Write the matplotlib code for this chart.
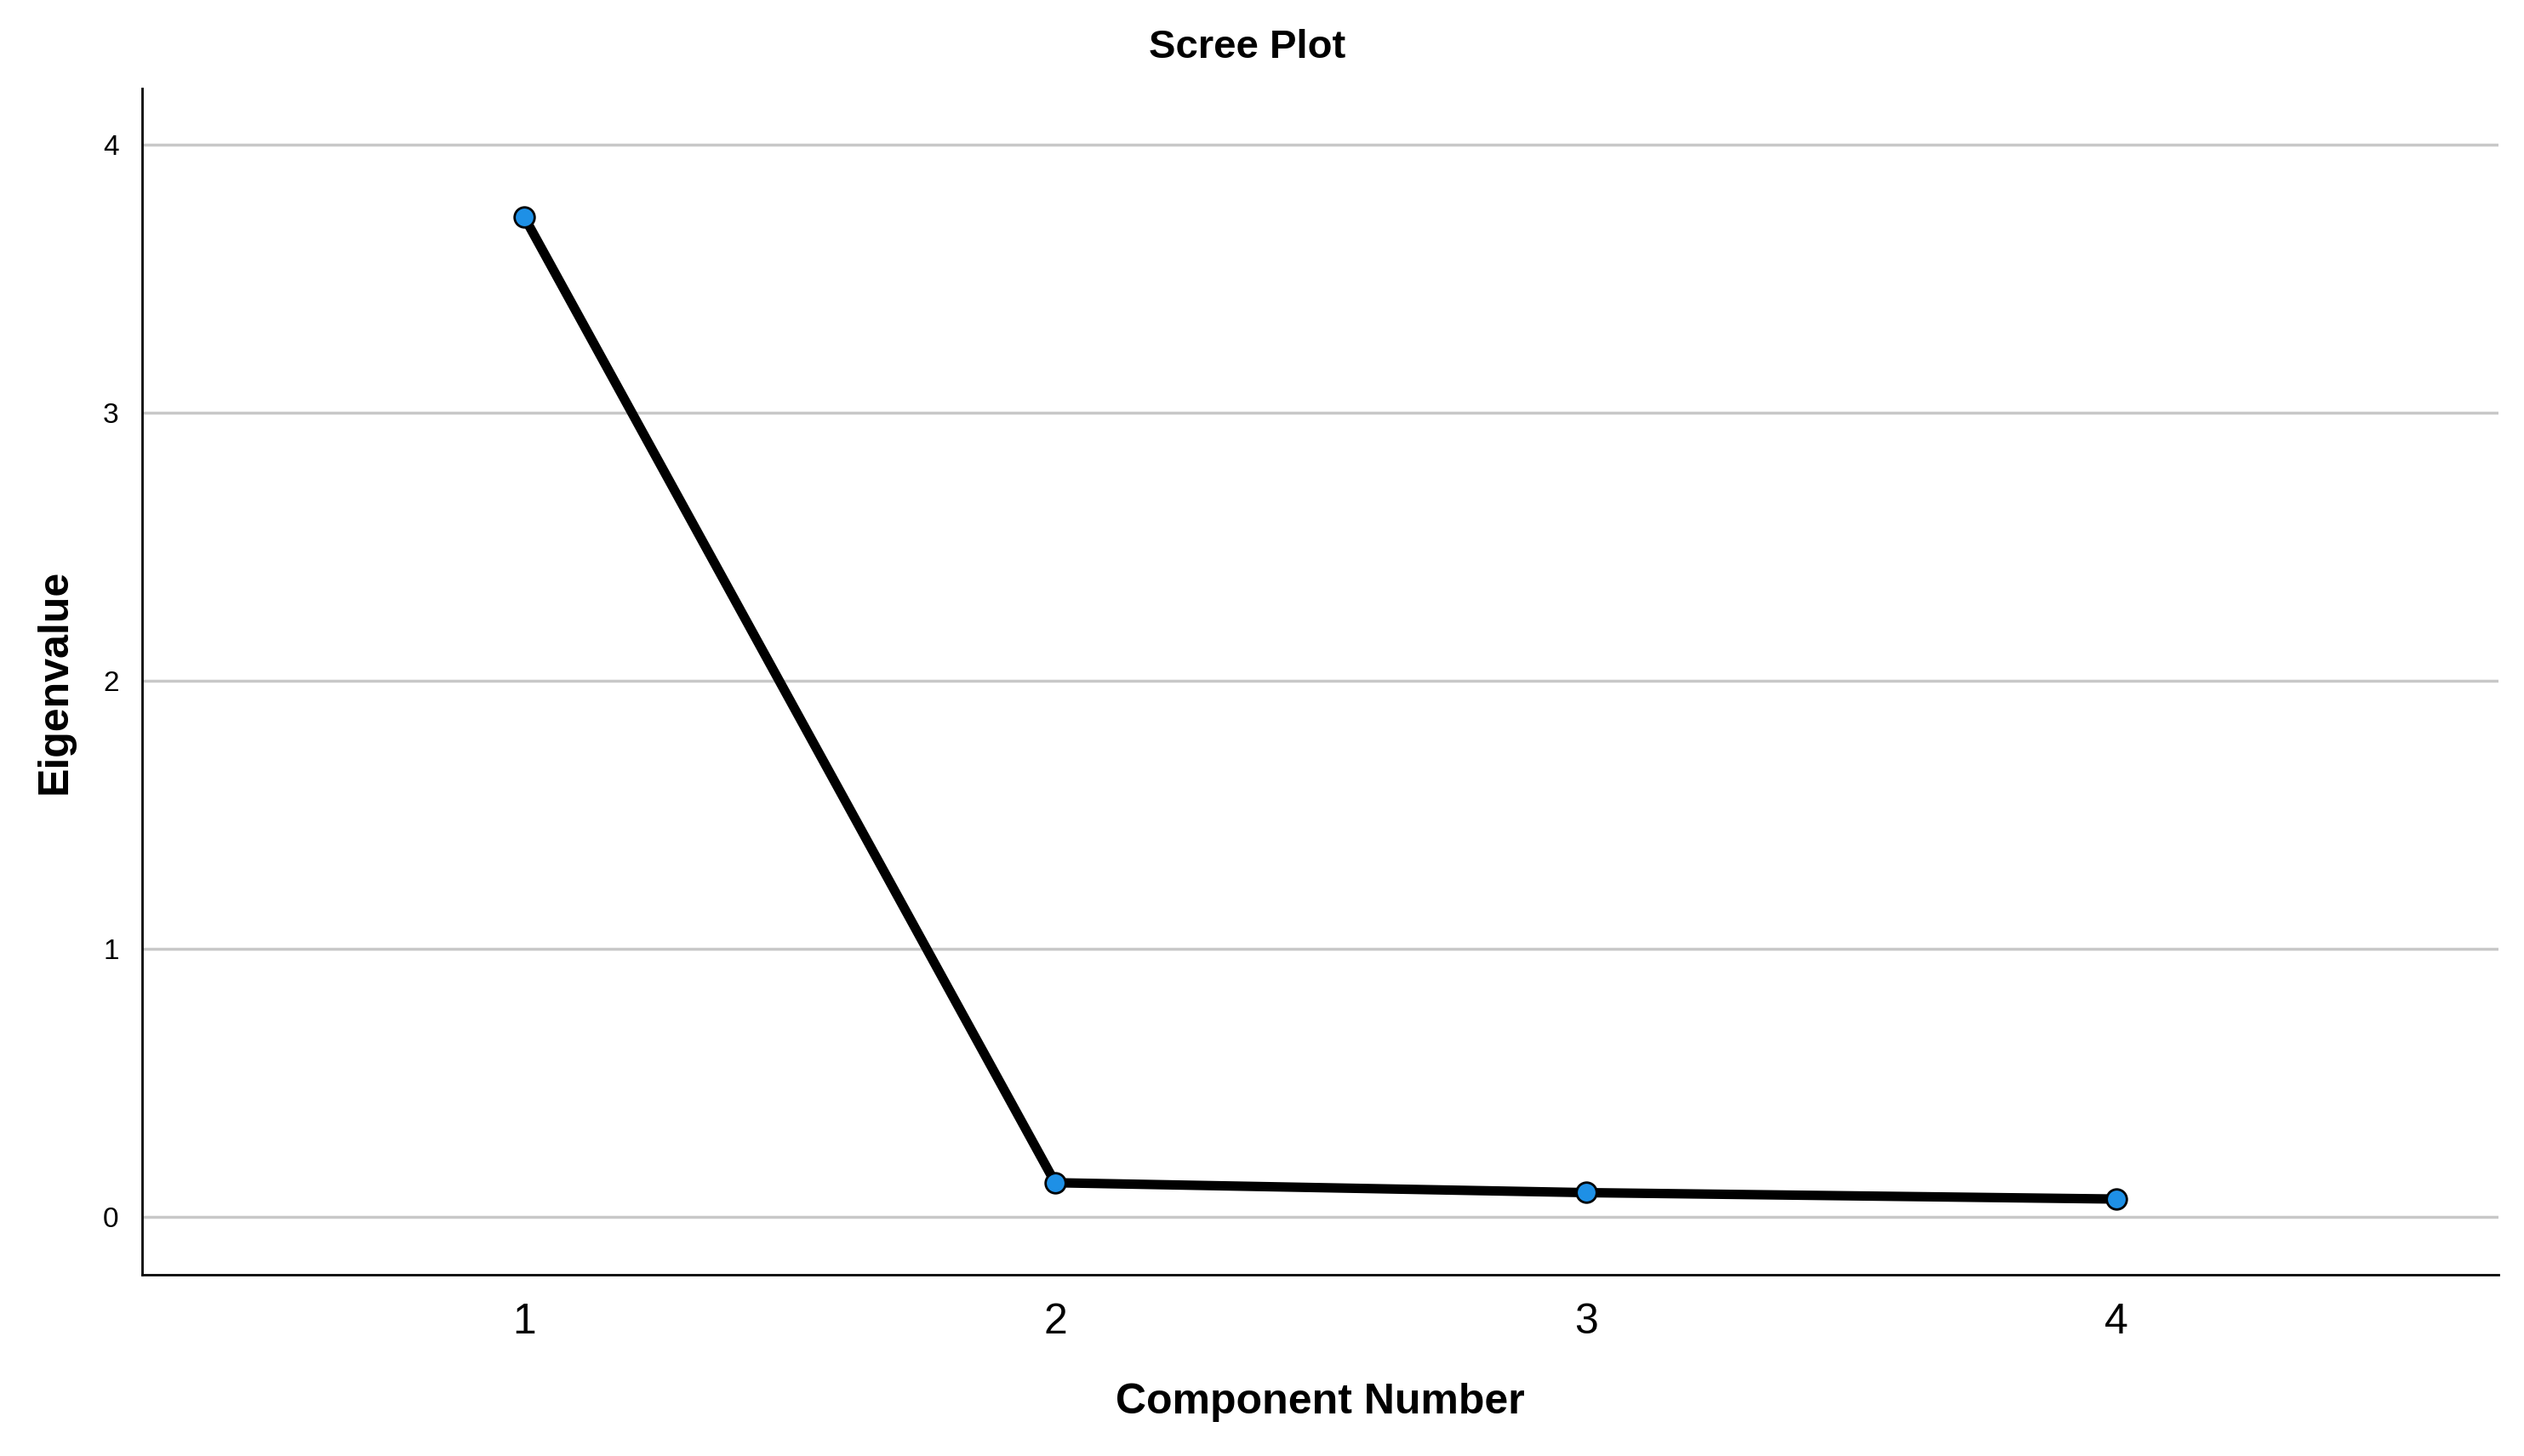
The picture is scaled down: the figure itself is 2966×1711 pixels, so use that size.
import matplotlib
matplotlib.use("Agg")
import matplotlib.pyplot as plt

components = [1, 2, 3, 4]
eigenvalues = [3.73, 0.127, 0.09, 0.066]
yticks = [0, 1, 2, 3, 4]

plt.rcParams['font.family'] = ['Liberation Sans', 'DejaVu Sans']
fig = plt.figure(figsize=(29.66, 17.11), dpi=100)
ax = fig.add_axes([0.0564, 0.1244, 0.9336, 0.8146])
for y in yticks:
    ax.axhline(y, color='#c8c8c8', lw=2.5, zorder=0)
ax.plot(components, eigenvalues, color='black', lw=8, zorder=2,
        marker='o', markersize=17, markerfacecolor='#1e90e6',
        markeredgecolor='black', markeredgewidth=2)
ax.set_xlim(0.28, 4.72)
ax.set_ylim(-0.217, 4.21)
ax.set_xticks(components)
ax.set_yticks(yticks)
ax.tick_params(axis='x', labelsize=36, length=0, pad=24)
ax.tick_params(axis='y', labelsize=24, length=0, pad=20)
for s in ['top', 'right']:
    ax.spines[s].set_visible(False)
for s in ['left', 'bottom']:
    ax.spines[s].set_linewidth(2)
fig.text(0.494, 0.967, 'Scree Plot', fontsize=34, fontweight='bold', ha='center', va='center')
ax.set_xlabel('Component Number', fontsize=36, fontweight='bold', labelpad=34)
ax.set_ylabel('Eigenvalue', fontsize=36, fontweight='bold', labelpad=24)
fig.savefig('out.png', dpi=100, facecolor='white')
